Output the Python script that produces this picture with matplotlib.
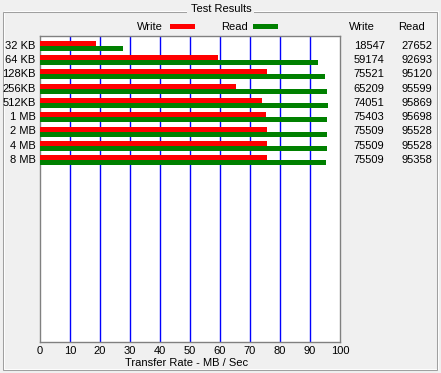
import matplotlib
matplotlib.use("Agg")
import matplotlib.pyplot as plt
from matplotlib.patches import Rectangle

# ---- data ----
sizes = ["32 KB", "64 KB", "128KB", "256KB", "512KB", "1 MB", "2 MB", "4 MB", "8 MB"]
write_kb = [18547, 59174, 75521, 65209, 74051, 75403, 75509, 75509, 75509]
read_kb = [27652, 92693, 95120, 95599, 95869, 95698, 95528, 95528, 95358]
x_ticks = [0, 10, 20, 30, 40, 50, 60, 70, 80, 90, 100]
title = "Test Results"
xlabel = "Transfer Rate - MB / Sec"

W, H = 441, 373
BG = "#f0f0f0"
FONT = "Liberation Sans"
FS = 8.0

fig = plt.figure(figsize=(W / 100, H / 100), dpi=100, facecolor=BG)

def fx(x):
    return x / W

def fy(y):
    return 1 - y / H

# group box
fig.add_artist(Rectangle((fx(3), fy(370)), fx(434), (367 - 9) / H, fill=False,
                         edgecolor="#a0a0a0", lw=0.75, transform=fig.transFigure))
fig.add_artist(Rectangle((fx(4), fy(369)), fx(434), (367 - 9) / H, fill=False,
                         edgecolor="white", lw=0.75, transform=fig.transFigure, zorder=0))
fig.add_artist(Rectangle((fx(187), fy(14)), fx(67), 10 / H, facecolor=BG,
                         edgecolor="none", transform=fig.transFigure))
fig.text(fx(221), fy(9), title, ha="center", va="center", fontsize=FS, family=FONT)

# axes
L, T, R, B = 40, 36, 340, 342
ax = fig.add_axes([fx(L), fy(B), fx(R - L), (B - T) / H])
ax.set_facecolor("white")
pitch = 14.3
first = 45.7
ax.set_xlim(0, 100)
ax.set_ylim((B - first) / pitch, -(first - T) / pitch)
bh = 5 / pitch
ys = list(range(len(sizes)))
ax.barh([y - bh / 2 for y in ys], [v / 1000 for v in write_kb], height=bh, color="#ff0000", zorder=3)
ax.barh([y + bh / 2 for y in ys], [v / 1000 for v in read_kb], height=bh, color="#008000", zorder=3)
for t in x_ticks[1:-1]:
    ax.axvline(t, color="#0000ff", lw=1.0, zorder=2)
ax.set_xticks([])
ax.set_yticks([])
for s in ax.spines.values():
    s.set_color("#808080")
    s.set_linewidth(1.0)

# tick labels
for t in x_ticks:
    fig.text(fx(L + t * 3), fy(351), str(t), ha="center", va="center", fontsize=FS, family=FONT)
fig.text(fx(187), fy(363.5), xlabel, ha="center", va="center", fontsize=FS, family=FONT)

# row labels and values
for i, s in enumerate(sizes):
    yc = first + i * pitch
    fig.text(fx(35.5), fy(yc), s, ha="right", va="center", fontsize=FS, family=FONT)
    fig.text(fx(384.5), fy(yc), str(write_kb[i]), ha="right", va="center", fontsize=FS, family=FONT)
    fig.text(fx(432.5), fy(yc), str(read_kb[i]), ha="right", va="center", fontsize=FS, family=FONT)

fig.text(fx(349), fy(26.5), "Write", ha="left", va="center", fontsize=FS, family=FONT)
fig.text(fx(398), fy(26.5), "Read", ha="left", va="center", fontsize=FS, family=FONT)

# legend
fig.text(fx(137), fy(26.5), "Write", ha="left", va="center", fontsize=FS, family=FONT)
fig.add_artist(Rectangle((fx(170), fy(28.5)), fx(25), 4 / H, facecolor="#ff0000",
                         edgecolor="none", transform=fig.transFigure))
fig.text(fx(221), fy(26.5), "Read", ha="left", va="center", fontsize=FS, family=FONT)
fig.add_artist(Rectangle((fx(253), fy(28.5)), fx(25), 4 / H, facecolor="#008000",
                         edgecolor="none", transform=fig.transFigure))

fig.savefig("out.png", dpi=100, facecolor=BG)
